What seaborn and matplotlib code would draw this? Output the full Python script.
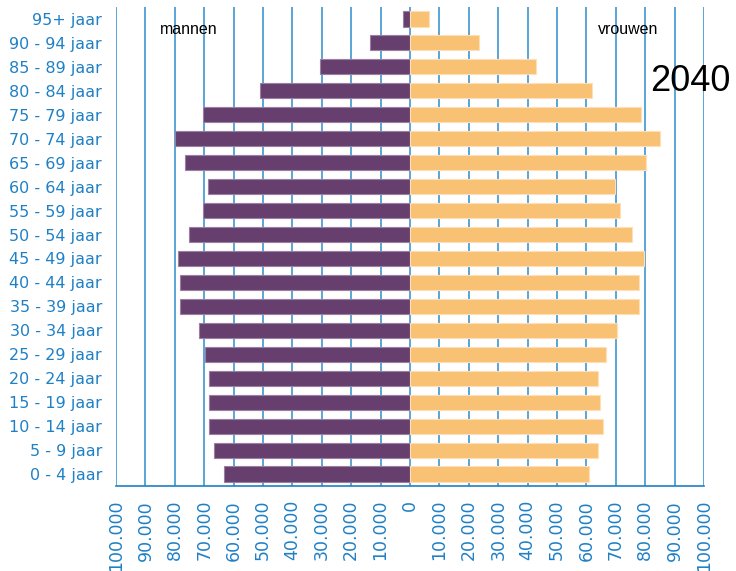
import numpy as np
import pandas as pd
import matplotlib
matplotlib.use('Agg')
import matplotlib.pyplot as plt
import seaborn as sns

# age groups, top to bottom
age_groups = ['95+ jaar', '90 - 94 jaar', '85 - 89 jaar', '80 - 84 jaar', '75 - 79 jaar',
              '70 - 74 jaar', '65 - 69 jaar', '60 - 64 jaar', '55 - 59 jaar', '50 - 54 jaar',
              '45 - 49 jaar', '40 - 44 jaar', '35 - 39 jaar', '30 - 34 jaar', '25 - 29 jaar',
              '20 - 24 jaar', '15 - 19 jaar', '10 - 14 jaar', '5 - 9 jaar', '0 - 4 jaar']

mannen = [2500, 13600, 30600, 51000, 70500, 79900, 76400, 68600, 70500, 75300,
          78800, 78200, 78200, 71700, 69700, 68400, 68300, 68400, 66700, 63300]

vrouwen = [6600, 23500, 42700, 61900, 78600, 85000, 80200, 69700, 71400, 75400,
           79600, 77800, 77900, 70400, 66700, 64100, 64700, 65800, 64000, 60800]

x_ticks = list(range(-100000, 100001, 10000))

BLUE = '#1f80c6'
GRID = '#4d9ed6'
MEN_COLOR = '#663f6e'
WOMEN_COLOR = '#f9c174'

df = pd.DataFrame({'leeftijd': age_groups,
                   'mannen': -np.array(mannen),
                   'vrouwen': np.array(vrouwen)})

sns.set_style('white')
plt.rcParams['font.family'] = ['DejaVu Sans']

fig = plt.figure(figsize=(7.36, 5.71), dpi=100)
ax = fig.add_axes([116 / 736, 1 - 486 / 571, 588 / 736, 479 / 571])

for x in x_ticks:
    ax.axvline(x, color=GRID, linewidth=1.3, zorder=0)

sns.barplot(data=df, x='mannen', y='leeftijd', order=age_groups, orient='h',
            color=MEN_COLOR, saturation=1, width=0.63, edgecolor='#9a7fa0',
            linewidth=0.8, ax=ax, zorder=2)
sns.barplot(data=df, x='vrouwen', y='leeftijd', order=age_groups, orient='h',
            color=WOMEN_COLOR, saturation=1, width=0.63, edgecolor='#fde0b8',
            linewidth=0.8, ax=ax, zorder=2)

ax.set_xlim(-100000, 100000)
ax.set_ylim(len(age_groups) - 0.5, -0.5)
ax.set_xlabel('')
ax.set_ylabel('')

ax.set_xticks(x_ticks)
ax.set_xticklabels([f'{abs(v):,}'.replace(',', '.') for v in x_ticks],
                   rotation=90, color=BLUE, fontsize=12.5)
ax.tick_params(axis='x', direction='out', length=6, width=1, color=BLUE, pad=4)
ax.tick_params(axis='y', length=0, pad=10, labelcolor=BLUE, labelsize=11.5)

for side in ['top', 'right', 'left']:
    ax.spines[side].set_visible(False)
ax.spines['bottom'].set_color(BLUE)
ax.spines['bottom'].set_linewidth(1.2)

ax.text(-85000, 0.45, 'mannen', fontsize=11.5, color='black',
        family='Liberation Sans', va='center', ha='left')
ax.text(64000, 0.45, 'vrouwen', fontsize=11.5, color='black',
        family='Liberation Sans', va='center', ha='left')
ax.text(95500, 2.6, '2040', fontsize=26, color='black',
        family='Liberation Sans', va='center', ha='center')

fig.savefig('out.png', dpi=100)
